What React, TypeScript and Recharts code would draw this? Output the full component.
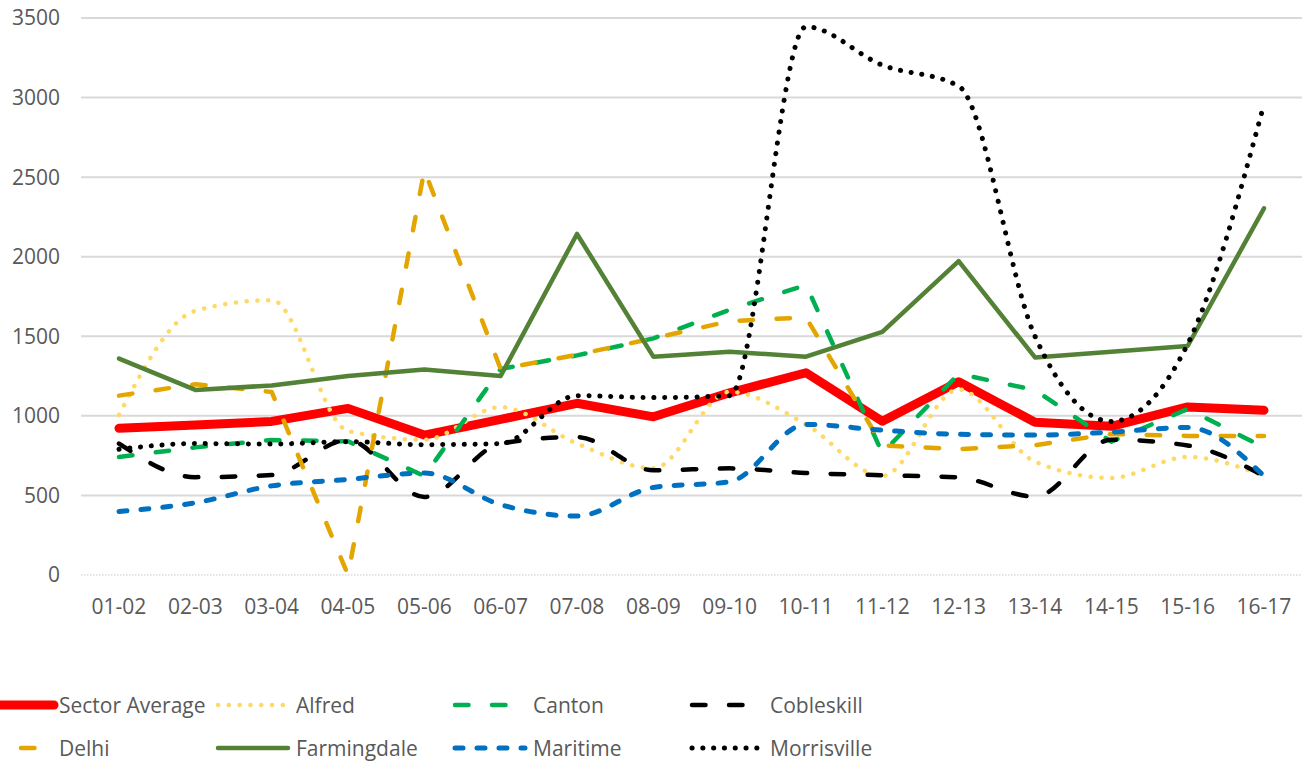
import { LineChart, Line, XAxis, YAxis, ReferenceLine } from 'recharts';

const years = [
  '01-02', '02-03', '03-04', '04-05', '05-06', '06-07', '07-08', '08-09',
  '09-10', '10-11', '11-12', '12-13', '13-14', '14-15', '15-16', '16-17',
];

const sectorAverage = [922, 942, 965, 1047, 879, 978, 1079, 994, 1145, 1271, 966, 1214, 960, 934, 1056, 1035];
const alfred = [1006, 1660, 1727, 905, 850, 1055, 826, 670, 1151, 946, 622, 1166, 712, 610, 742, 622];
const canton = [742, 802, 848, 840, 622, 1295, 1380, 1487, 1667, 1823, 766, 1264, 1162, 838, 1043, 802];
const cobleskill = [826, 615, 628, 848, 490, 826, 867, 658, 670, 641, 627, 613, 492, 850, 814, 622];
const delhi = [1127, 1199, 1150, 0, 2544, 1295, 1384, 1487, 1595, 1619, 814, 791, 816, 886, 874, 874];
const farmingdale = [1360, 1163, 1191, 1251, 1292, 1251, 2143, 1372, 1403, 1372, 1528, 1972, 1367, 1403, 1439, 2304];
const maritime = [399, 454, 560, 601, 641, 442, 370, 550, 586, 946, 910, 884, 879, 898, 927, 622];
const morrisville = [790, 826, 823, 838, 819, 826, 1127, 1115, 1127, 3445, 3204, 3072, 1500, 965, 1451, 2959];

const yTicks = [0, 500, 1000, 1500, 2000, 2500, 3000, 3500];

const FONT = '"Open Sans", sans-serif';
const TEXT = '#595959';

type Style = {
  key: string;
  name: string;
  color: string;
  width: number;
  dash?: string;
  smooth?: boolean;
};

const SERIES: Style[] = [
  { key: 'sector', name: 'Sector Average', color: '#ff0000', width: 9 },
  { key: 'alfred', name: 'Alfred', color: '#ffd966', width: 4.5, dash: '0.1 10.7', smooth: true },
  { key: 'canton', name: 'Canton', color: '#00b050', width: 4.5, dash: '13.5 23.5' },
  { key: 'cobleskill', name: 'Cobleskill', color: '#000000', width: 4.5, dash: '13.5 23.5', smooth: true },
  { key: 'delhi', name: 'Delhi', color: '#e3a600', width: 4.5, dash: '13.5 23.5' },
  { key: 'farmingdale', name: 'Farmingdale', color: '#538135', width: 4.5 },
  { key: 'maritime', name: 'Maritime', color: '#0070c0', width: 5, dash: '8 14', smooth: true },
  { key: 'morrisville', name: 'Morrisville', color: '#000000', width: 5, dash: '0.1 10.7', smooth: true },
];

const data = years.map((cat, i) => ({
  cat,
  sector: sectorAverage[i],
  alfred: alfred[i],
  canton: canton[i],
  cobleskill: cobleskill[i],
  delhi: delhi[i],
  farmingdale: farmingdale[i],
  maritime: maritime[i],
  morrisville: morrisville[i],
}));

// legend drawn by hand: 4 columns x 2 rows, first column runs off the left edge like the original
function ChartLegend() {
  const colStart = [-16, 218, 455, 692];
  const rowY = [25, 68];
  return (
    <svg width={1307} height={83} style={{ position: 'absolute', left: 0, top: 680 }}>
      {SERIES.map((s, i) => {
        const x = colStart[i % 4];
        const y = rowY[Math.floor(i / 4)];
        const textX = i % 4 === 0 ? 59 : x + 78;
        return (
          <g key={s.key}>
            <line
              x1={x}
              x2={x + 70}
              y1={y}
              y2={y}
              stroke={s.color}
              strokeWidth={s.width}
              strokeDasharray={s.dash}
              strokeLinecap="round"
            />
            <text
              x={textX}
              y={y}
              dominantBaseline="central"
              fill={TEXT}
              fontSize={21}
              fontFamily={FONT}
            >
              {s.name}
            </text>
          </g>
        );
      })}
    </svg>
  );
}

export default function App() {
  return (
    <div style={{ position: 'absolute', left: 0, top: 0, width: 1307, height: 763, background: '#fff' }}>
      <LineChart width={1307} height={763} data={data} margin={{ top: 18, right: 5, left: 0, bottom: 148 }}>
        <XAxis
          dataKey="cat"
          axisLine={false}
          tickLine={false}
          tickSize={0}
          tickMargin={24}
          height={40}
          interval={0}
          padding={{ left: 38, right: 38 }}
          tick={{ fill: TEXT, fontSize: 21, fontFamily: FONT }}
        />
        <YAxis
          domain={[0, 3500]}
          ticks={yTicks}
          width={81}
          axisLine={false}
          tickLine={false}
          tickSize={0}
          tickMargin={21}
          tick={{ fill: TEXT, fontSize: 21, fontFamily: FONT }}
        />
        {yTicks.map(t => (
          <ReferenceLine
            key={t}
            y={t}
            stroke="#d9d9d9"
            strokeWidth={t === 0 ? 1.5 : 2}
            strokeDasharray={t === 0 ? '1.5 1.5' : undefined}
          />
        ))}
        {SERIES.map(s => (
          <Line
            key={s.key}
            type={s.smooth ? 'monotone' : 'linear'}
            dataKey={s.key}
            name={s.name}
            stroke={s.color}
            strokeWidth={s.width}
            strokeDasharray={s.dash}
            strokeLinecap="round"
            strokeLinejoin="round"
            dot={false}
            activeDot={false}
            isAnimationActive={false}
          />
        ))}
      </LineChart>
      <ChartLegend />
    </div>
  );
}
